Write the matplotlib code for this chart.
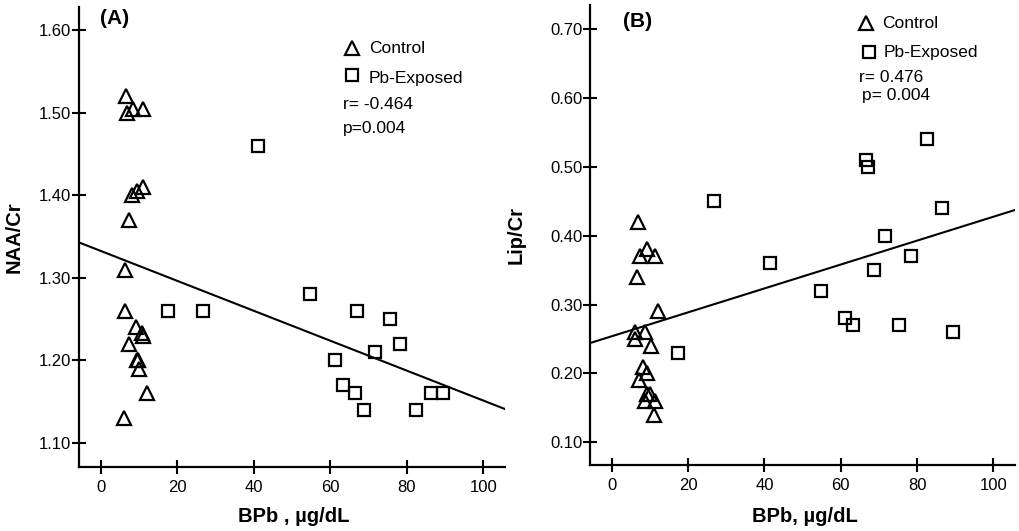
import matplotlib
matplotlib.use("Agg")
import matplotlib.pyplot as plt
from matplotlib.lines import Line2D

plt.rcParams['font.family'] = ['Liberation Sans', 'DejaVu Sans']

# Panel A: NAA/Cr vs blood lead
ctrl_a_x = [6.5, 6.8, 8.3, 11.1, 11.1, 9.3, 8.2, 7.3, 6.3, 6.3, 9.1, 10.6, 11.1,
            7.3, 9.3, 9.8, 10.0, 12.0, 6.1]
ctrl_a_y = [1.52, 1.50, 1.505, 1.505, 1.41, 1.405, 1.40, 1.37, 1.31, 1.26, 1.24, 1.233, 1.23,
            1.22, 1.20, 1.20, 1.19, 1.16, 1.13]
pb_a_x = [41.2, 17.5, 26.8, 54.7, 67.1, 75.5, 78.3, 71.7, 61.1, 63.3, 66.5, 68.7, 82.5, 86.3, 89.6]
pb_a_y = [1.46, 1.26, 1.26, 1.28, 1.26, 1.25, 1.22, 1.21, 1.20, 1.17, 1.16, 1.14, 1.14, 1.16, 1.16]
fit_a_x = [-5.8, 105.8]
fit_a_y = [1.343, 1.141]

# Panel B: Lip/Cr vs blood lead
ctrl_b_x = [6.7, 9.2, 7.3, 11.3, 6.5, 12.1, 6.0, 8.6, 6.0, 10.2, 8.2, 9.1, 7.1, 9.1, 9.9,
            8.6, 11.3, 11.0]
ctrl_b_y = [0.42, 0.38, 0.37, 0.37, 0.34, 0.29, 0.26, 0.26, 0.25, 0.24, 0.21, 0.20, 0.19, 0.17, 0.17,
            0.16, 0.16, 0.14]
pb_b_x = [26.7, 66.5, 67.1, 82.5, 86.5, 71.7, 78.5, 41.4, 68.6, 54.7, 61.0, 63.2, 75.4, 89.4, 17.4]
pb_b_y = [0.45, 0.51, 0.50, 0.54, 0.44, 0.40, 0.37, 0.36, 0.35, 0.32, 0.28, 0.27, 0.27, 0.26, 0.23]
fit_b_x = [-5.8, 105.5]
fit_b_y = [0.244, 0.437]

xticks = [0, 20, 40, 60, 80, 100]
yticks_a = [1.10, 1.20, 1.30, 1.40, 1.50, 1.60]
yticks_b = [0.10, 0.20, 0.30, 0.40, 0.50, 0.60, 0.70]

W, H = 1020, 531
fig = plt.figure(figsize=(W / 100, H / 100), dpi=100)
axA = fig.add_axes([79 / W, 64 / H, 426 / W, 460 / H])
axB = fig.add_axes([590 / W, 66 / H, 425 / W, 460 / H])

tri = dict(marker='^', ms=10.5, mfc='none', mec='black', mew=1.6, ls='none')
sq = dict(marker='s', ms=8, mfc='none', mec='black', mew=1.6, ls='none')


def style(ax, yticks, ylim, ylabel, xlabel, ylab_x, xlab_y):
    for s in ['top', 'right']:
        ax.spines[s].set_visible(False)
    for s in ['left', 'bottom']:
        ax.spines[s].set_linewidth(1.6)
    ax.set_xlim(-5.76, 105.7)
    ax.set_ylim(*ylim)
    ax.set_xticks(xticks)
    ax.set_yticks(yticks)
    ax.set_yticklabels(['%.2f' % v for v in yticks])
    ax.tick_params(direction='inout', length=10, width=1.5, labelsize=12)
    ax.tick_params(axis='y', pad=0.5)
    ax.tick_params(axis='x', pad=4)
    ax.set_ylabel(ylabel, fontsize=14.5, fontweight='bold')
    ax.set_xlabel(xlabel, fontsize=14.5, fontweight='bold')
    ax.yaxis.set_label_coords(ylab_x, 0.5)
    ax.xaxis.set_label_coords(0.505, xlab_y)


axA.plot(fit_a_x, fit_a_y, color='black', lw=1.5)
axA.plot(ctrl_a_x, ctrl_a_y, **tri)
axA.plot(pb_a_x, pb_a_y, **sq)
style(axA, yticks_a, (1.071, 1.628), 'NAA/Cr', 'BPb , µg/dL', -0.131, -0.087)

axB.plot(fit_b_x, fit_b_y, color='black', lw=1.5)
axB.plot(ctrl_b_x, ctrl_b_y, **tri)
axB.plot(pb_b_x, pb_b_y, **sq)
style(axB, yticks_b, (0.067, 0.735), 'Lip/Cr', 'BPb, µg/dL', -0.151, -0.091)


def ftext(x, y, s, **kw):
    fig.text(x / W, 1 - y / H, s, va='baseline', ha='left', **kw)


def fmark(x, y, style_kw):
    fig.add_artist(Line2D([x / W], [1 - y / H], transform=fig.transFigure, **style_kw))


# panel A annotations
ftext(100, 24, '(A)', fontsize=15, fontweight='bold')
fmark(351.7, 48.3, tri)
fmark(351.7, 75, sq)
ftext(369, 52.7, 'Control', fontsize=12.5)
ftext(369, 83.3, 'Pb-Exposed', fontsize=12.5)
ftext(343.3, 109.3, 'r= -0.464', fontsize=12.5)
ftext(343.3, 132.7, 'p=0.004', fontsize=12.5)

# panel B annotations
ftext(623, 26.7, '(B)', fontsize=15, fontweight='bold')
fmark(866, 23.3, tri)
fmark(869, 51.7, sq)
ftext(882.3, 28.3, 'Control', fontsize=12.5)
ftext(883.3, 56.7, 'Pb-Exposed', fontsize=12.5)
ftext(859.3, 81.7, 'r= 0.476', fontsize=12.5)
ftext(861.7, 100, 'p= 0.004', fontsize=12.5)

fig.savefig('out.png', dpi=100)
